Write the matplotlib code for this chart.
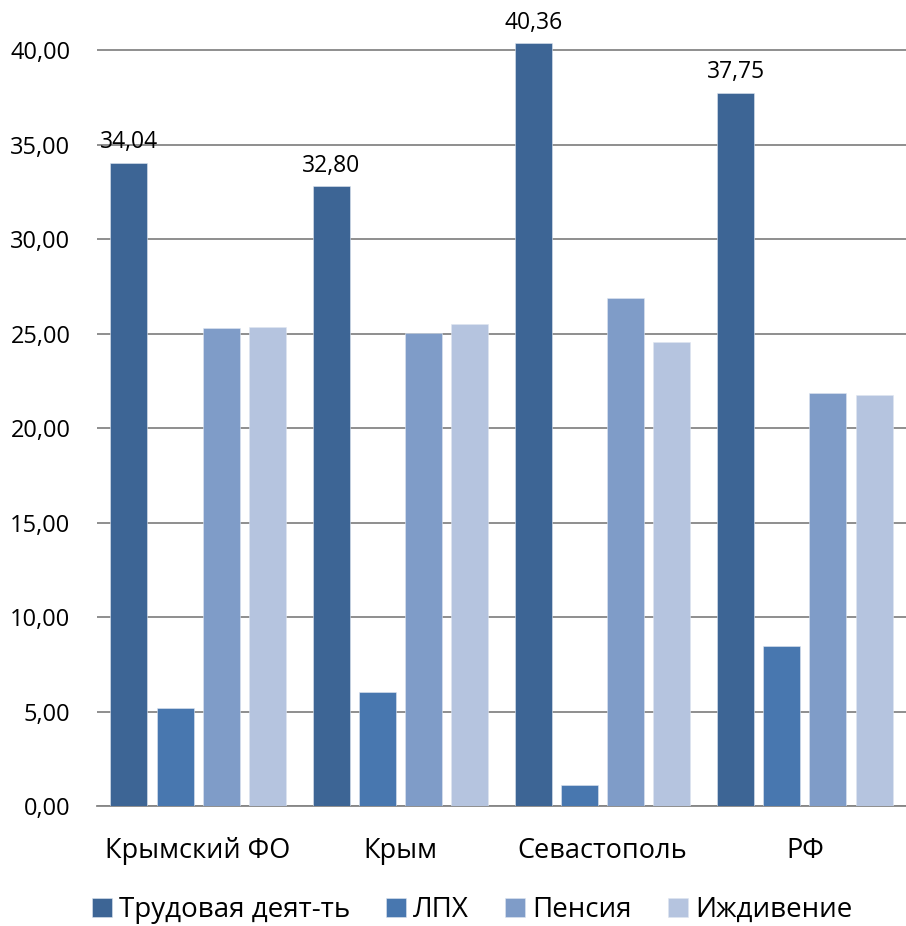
import matplotlib.pyplot as plt
import numpy as np

plt.rcParams['font.family'] = ['Open Sans', 'DejaVu Sans']

# данные
regions = ['Крымский ФО', 'Крым', 'Севастополь', 'РФ']
series_names = ['Трудовая деят-ть', 'ЛПХ', 'Пенсия', 'Иждивение']
trud = [34.04, 32.80, 40.36, 37.75]
lph = [5.20, 6.03, 1.11, 8.47]
pensia = [25.29, 25.03, 26.88, 21.85]
izhd = [25.34, 25.50, 24.55, 21.75]
colors = ['#3D6595', '#4877AF', '#7F9CC8', '#B5C4DF']

fig = plt.figure(figsize=(9.06, 9.26), dpi=100)
ax = fig.add_axes([0.107, 0.1296, 0.893, 0.8704])

x = np.arange(len(regions))
step = 0.228
width = 0.183
data = [trud, lph, pensia, izhd]
for i, (vals, name, col) in enumerate(zip(data, series_names, colors)):
    bars = ax.bar(x + (i - 1.5) * step, vals, width=width, color=col,
                  label=name, zorder=3, edgecolor='#dfe6f0', linewidth=0.4)
    if i == 0:
        for b, v in zip(bars, vals):
            ax.annotate(f'{v:.2f}'.replace('.', ','),
                        (b.get_x() + b.get_width() / 2, v),
                        xytext=(0, 6), textcoords='offset points',
                        ha='center', va='bottom', fontsize=16.5, clip_on=False)

ax.set_xlim(-0.5, 3.5)
ax.set_ylim(0, 42.65)
ax.set_yticks(np.arange(0, 41, 5))
ax.set_yticklabels([f'{t:.2f}'.replace('.', ',') for t in np.arange(0, 41, 5)])
ax.set_xticks(x)
ax.set_xticklabels(regions)
ax.tick_params(axis='y', length=0, pad=19, labelsize=17)
ax.tick_params(axis='x', length=0, pad=22, labelsize=19.5)
ax.grid(axis='y', color='#868686', linewidth=1.3, zorder=0)
for s in ['top', 'right', 'left']:
    ax.spines[s].set_visible(False)
ax.spines['bottom'].set_color('#868686')
ax.spines['bottom'].set_linewidth(1.3)

fig.legend(loc='center', bbox_to_anchor=(0.521, 0.017), ncol=4,
           frameon=False, fontsize=20, handlelength=0.72, handleheight=0.72,
           handletextpad=0.25, columnspacing=1.3, borderpad=0)

plt.savefig('out.png', dpi=100)
